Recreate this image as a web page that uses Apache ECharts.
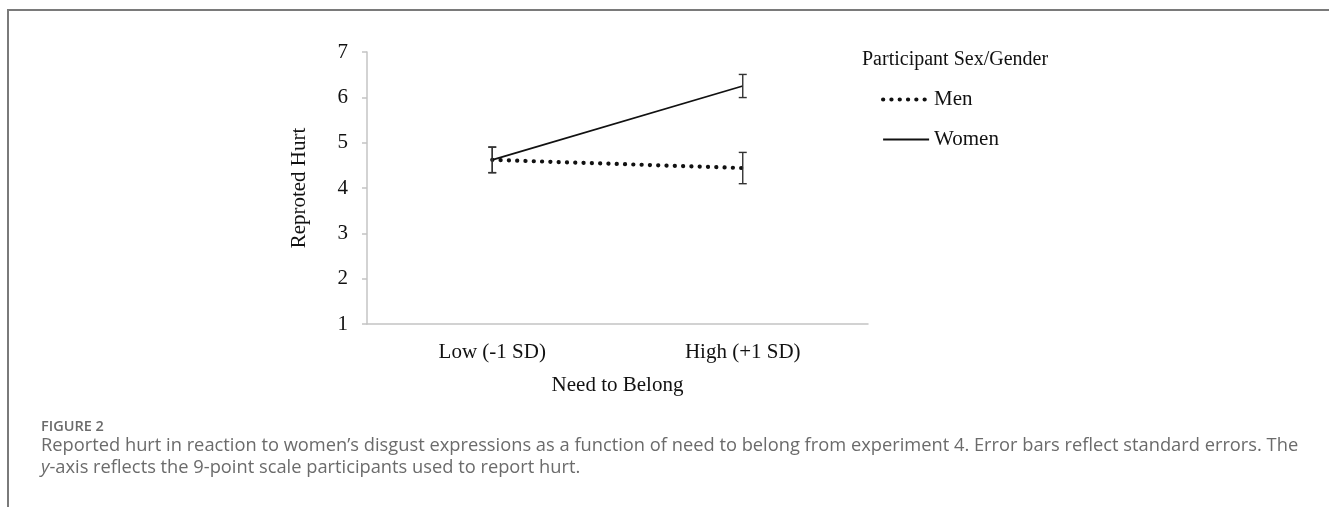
<!DOCTYPE html>
<html>
<head>
<meta charset="utf-8">
<style>
html,body{margin:0;padding:0;background:#fff;}
#chart{width:1329px;height:507px;}
</style>
<script src="https://cdn.jsdelivr.net/npm/echarts@6/dist/echarts.min.js"></script>
</head>
<body>
<div id="chart"></div>
<script>
const categories = ['Low (-1 SD)', 'High (+1 SD)'];
const menMeans = [4.62, 4.44];
const menSE = [0.28, 0.345];
const womenMeans = [4.62, 6.25];
const womenSE = [0.285, 0.255];
const yTicks = [1, 2, 3, 4, 5, 6, 7];
const legendTitle = 'Participant Sex/Gender';
const yName = 'Reproted Hurt';
const xName = 'Need to Belong';
const figLabel = 'FIGURE 2';
const captionLine1 = 'Reported hurt in reaction to women\u2019s disgust expressions as a function of need to belong from experiment 4. Error bars reflect standard errors. The';
const captionLine2 = '-axis reflects the 9-point scale participants used to report hurt.';

const serif = 'Liberation Serif';
const chart = echarts.init(document.getElementById('chart'));

const menLine = { color: '#111', width: 4.2, type: [0.1, 8.2], cap: 'round' };
const womenLine = { color: '#111', width: 1.8, type: 'solid' };

function errorSeries(name, means, se) {
  const data = categories.map((c, i) => [i, means[i] - se[i], means[i] + se[i]]);
  return {
    name: name + ' SE',
    type: 'custom',
    z: 5,
    data: data,
    renderItem: function (params, api) {
      const lo = api.coord([api.value(0), api.value(1)]);
      const hi = api.coord([api.value(0), api.value(2)]);
      const hw = 4;
      const st = { stroke: '#333', lineWidth: 1.4 };
      return {
        type: 'group',
        children: [
          { type: 'line', shape: { x1: hi[0], y1: hi[1], x2: lo[0], y2: lo[1] }, style: st },
          { type: 'line', shape: { x1: hi[0] - hw, y1: hi[1], x2: hi[0] + hw, y2: hi[1] }, style: st },
          { type: 'line', shape: { x1: lo[0] - hw, y1: lo[1], x2: lo[0] + hw, y2: lo[1] }, style: st }
        ]
      };
    }
  };
}

const option = {
  backgroundColor: '#fff',
  animation: false,
  title: {
    text: legendTitle,
    left: 857,
    top: 45,
    textStyle: { fontFamily: serif, fontSize: 20, fontWeight: 'normal', color: '#111' }
  },
  legend: {
    orient: 'vertical',
    left: 876,
    top: 84,
    itemWidth: 46,
    itemHeight: 20,
    itemGap: 19,
    data: [
      { name: 'Men', lineStyle: menLine },
      { name: 'Women', lineStyle: womenLine }
    ],
    itemStyle: { color: 'rgba(0,0,0,0)', borderWidth: 0, opacity: 0 },
    textStyle: { fontFamily: serif, fontSize: 21, color: '#111' }
  },
  grid: { left: 367, right: 1329 - 868, top: 52, bottom: 507 - 324 },
  xAxis: {
    type: 'category',
    data: categories,
    boundaryGap: true,
    name: xName,
    nameLocation: 'middle',
    nameGap: 51,
    nameTextStyle: { fontFamily: serif, fontSize: 21, color: '#111' },
    axisLine: { lineStyle: { color: '#c4c4c4', width: 1.5 } },
    axisTick: { show: false },
    axisLabel: { fontFamily: serif, fontSize: 21, color: '#111', margin: 18 },
    splitLine: { show: false }
  },
  yAxis: {
    type: 'value',
    min: yTicks[0],
    max: yTicks[yTicks.length - 1],
    interval: 1,
    name: yName,
    nameLocation: 'middle',
    nameGap: 57,
    nameTextStyle: { fontFamily: serif, fontSize: 21, color: '#111' },
    axisLine: { show: true, lineStyle: { color: '#c4c4c4', width: 1.5 } },
    axisTick: { show: true, length: 5, lineStyle: { color: '#c4c4c4', width: 1.5 } },
    axisLabel: { fontFamily: serif, fontSize: 21, color: '#111', margin: 19 },
    splitLine: { show: false }
  },
  series: [
    {
      name: 'Men',
      type: 'line',
      data: menMeans,
      symbol: 'none',
      z: 3,
      lineStyle: menLine,
      itemStyle: { color: '#111' }
    },
    {
      name: 'Women',
      type: 'line',
      data: womenMeans,
      symbol: 'none',
      z: 4,
      lineStyle: womenLine,
      itemStyle: { color: '#111' }
    },
    errorSeries('Men', menMeans, menSE),
    errorSeries('Women', womenMeans, womenSE)
  ],
  graphic: [
    { type: 'line', shape: { x1: 7, y1: 10, x2: 1329, y2: 10 }, style: { stroke: '#7a7a7a', lineWidth: 2 } },
    { type: 'line', shape: { x1: 8, y1: 10, x2: 8, y2: 507 }, style: { stroke: '#7a7a7a', lineWidth: 2 } },
    { type: 'text', left: 41, top: 419, style: { text: figLabel, font: '600 14.5px "Open Sans"', fill: '#6b6b6b' } },
    { type: 'text', left: 41, top: 437, style: { text: captionLine1, font: '18.3px "Open Sans"', fill: '#6b6b6b' } },
    { type: 'text', left: 41, top: 459, style: {
        text: '{i|y}' + captionLine2,
        font: '18.3px "Open Sans"', fill: '#6b6b6b',
        rich: { i: { fontStyle: 'italic', fontFamily: 'Open Sans', fontSize: 18.3, fill: '#6b6b6b', color: '#6b6b6b' } }
    } }
  ]
};
chart.setOption(option);
</script>
</body>
</html>
